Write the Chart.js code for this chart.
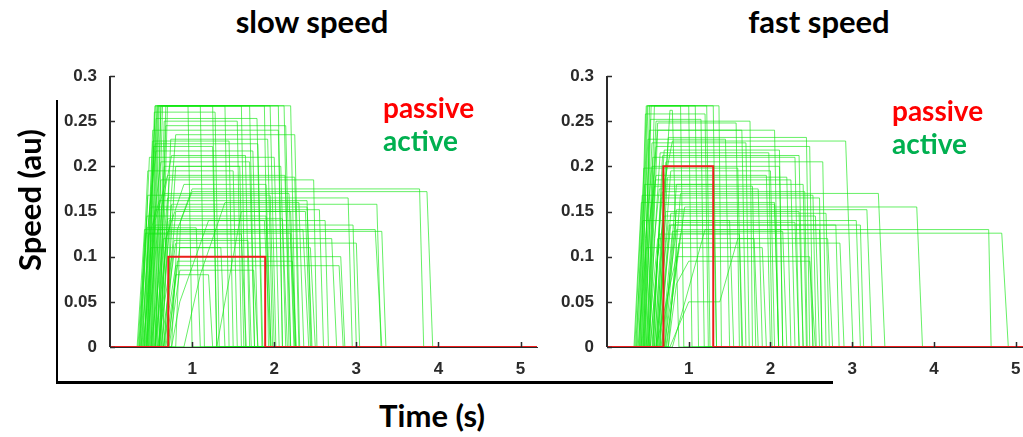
<!DOCTYPE html>
<html>
<head>
<meta charset="utf-8">
<script src="https://cdn.jsdelivr.net/npm/chart.js@4"></script>
<style>
  body { margin: 0; width: 1023px; height: 437px; overflow: hidden; background: #fff; position: relative; font-family: Lato, sans-serif; }
  .box { position: absolute; }
  .title { position: absolute; font-weight: 700; font-size: 31px; line-height: 31px; color: #000; transform: translateX(-50%); white-space: nowrap; }
  .leg { position: absolute; font-weight: 700; font-size: 28px; line-height: 28px; white-space: nowrap; }
  .axisLab { position: absolute; font-weight: 700; font-size: 31px; line-height: 31px; color: #000; white-space: nowrap; }
</style>
</head>
<body>
<div class="title" style="left:312px; top:6px;">slow speed</div>
<div class="title" style="left:819px; top:6px;">fast speed</div>

<div class="box" style="left:50px; top:60px; width:500px; height:330px;"><canvas id="slowChart"></canvas></div>
<div class="box" style="left:545px; top:60px; width:500px; height:330px;"><canvas id="fastChart"></canvas></div>

<div class="leg" style="left:383px; top:93px; color:#ff0000;">passive</div>
<div class="leg" style="left:383px; top:126px; color:#00b050;">active</div>
<div class="leg" style="left:892px; top:96px; color:#ff0000;">passive</div>
<div class="leg" style="left:892px; top:129px; color:#00b050;">active</div>

<!-- big L-shaped axes -->
<div class="box" style="left:56px; top:100px; width:2px; height:284px; background:#000;"></div>
<div class="box" style="left:56px; top:381px; width:777px; height:3px; background:#000;"></div>

<div class="axisLab" style="left:29px; top:200px; transform:translate(-50%,-50%) rotate(-90deg);">Speed (au)</div>
<div class="axisLab" style="left:432px; top:415px; transform:translate(-50%,-50%);">Time (s)</div>

<script>
const xMax = 5.2;
const xTicks = [1, 2, 3, 4, 5];

/* ── slow speed: active trials (onset, plateau reached, plateau, plateau end, back to 0) ── */
const slowOn   = [0.45,0.50,0.55,0.60,0.52,0.62,0.48,0.58,0.70,0.40,0.42,0.55,0.47,0.66,0.50,0.60,0.80,0.75,0.55,0.45,0.60,0.38,0.65,0.35,0.40,0.45,0.55,0.33,0.50,0.62,0.70,0.58,0.65,0.72,0.68,0.75,0.90,1.30,0.42,0.44,0.36,0.52,0.57,0.63,0.39,0.41,0.53,0.49,0.46,0.60,
                  0.56,0.51,0.47,0.64,0.43,0.38,0.54,0.61,0.37,0.44,0.59,0.34,0.67,0.71,0.36];
const slowUp   = [0.55,0.58,0.62,0.68,0.60,0.70,0.56,0.66,0.80,0.55,0.56,0.75,0.62,0.80,0.70,0.90,1.00,1.00,0.70,0.60,0.75,0.50,0.80,0.45,0.55,0.58,0.70,0.42,0.65,0.80,0.85,0.75,0.80,0.85,0.80,1.20,1.40,1.60,0.52,0.53,0.46,0.62,0.66,0.72,0.47,0.50,0.62,0.57,0.54,0.68,
                  0.64,0.59,0.55,0.74,0.52,0.48,0.66,0.72,0.46,0.55,0.70,0.43,0.78,0.82,0.45];
const slowTop  = [0.267,0.267,0.267,0.267,0.267,0.267,0.253,0.250,0.235,0.225,0.217,0.212,0.205,0.200,0.190,0.180,0.175,0.172,0.165,0.162,0.158,0.155,0.150,0.145,0.135,0.130,0.128,0.130,0.120,0.115,0.110,0.100,0.090,0.085,0.080,0.140,0.160,0.150,0.240,0.222,0.195,0.185,0.170,0.140,0.125,0.110,0.267,0.267,0.260,0.245,
                  0.267,0.267,0.267,0.230,0.228,0.210,0.200,0.188,0.168,0.152,0.142,0.126,0.118,0.095,0.132];
const slowDown = [2.20,1.95,1.70,1.40,1.10,0.95,1.79,1.55,2.25,1.80,1.74,1.65,1.70,2.08,2.13,1.90,3.77,3.86,2.90,2.40,3.25,2.40,2.38,1.90,2.96,3.23,3.31,2.35,2.70,3.00,2.44,2.81,2.79,1.75,1.20,1.88,2.30,2.20,2.05,1.25,1.50,2.48,2.18,2.62,1.60,1.35,1.88,2.05,1.28,2.14,
                  1.60,1.25,2.12,1.92,1.45,2.00,1.58,2.25,1.95,2.55,2.10,2.20,1.68,2.22,1.05];
const slowOff  = [2.26,2.02,1.76,1.45,1.15,1.00,1.85,1.60,2.31,1.86,1.80,1.70,1.76,2.14,2.20,1.96,3.82,3.93,2.95,2.45,3.30,2.46,2.44,1.96,3.00,3.31,3.36,2.42,2.76,3.04,2.50,2.86,2.84,1.80,1.25,1.95,2.36,2.26,2.10,1.30,1.55,2.52,2.24,2.66,1.66,1.40,1.93,2.10,1.33,2.20,
                  1.65,1.30,2.18,1.98,1.50,2.06,1.63,2.30,2.00,2.60,2.16,2.25,1.72,2.27,1.10];
// shoulders on the rising edge: [trial, time, speed]
const slowKnees = [[8,0.74,0.16],[9,0.46,0.13],[10,0.47,0.14],[11,0.62,0.15],[12,0.52,0.13],[14,0.55,0.14],[15,0.68,0.12],[16,0.86,0.14],[17,0.82,0.13],[19,0.50,0.13],[35,0.85,0.05],[36,1.10,0.08]];
// passive trace: [time, speed]
const slowPassiveT = [0, 0.71, 0.71, 1.89, 1.89, xMax];
const slowPassiveV = [0, 0,    0.10, 0.10, 0,    0];

/* ── fast speed ── */
const fastOn   = [0.40,0.42,0.45,0.50,0.60,0.48,0.52,0.60,0.65,0.45,0.55,0.50,0.58,0.42,0.62,0.47,0.70,0.53,0.75,0.72,0.68,0.57,0.60,0.63,0.66,0.70,0.50,0.38,0.60,0.75,0.35,0.37,0.44,0.46,0.49,0.33,0.52,0.56,0.61,0.64,0.67,0.40,0.43,0.77,0.80,
                  0.41,0.46,0.39,0.51,0.44,0.56,0.36,0.62,0.48,0.34,0.58,0.65,0.71,0.53,0.73];
const fastUp   = [0.48,0.50,0.52,0.58,0.77,0.60,0.62,0.75,0.80,0.60,0.70,0.65,0.72,0.55,0.78,0.60,0.85,0.68,0.90,0.95,0.85,0.70,0.75,0.78,0.85,0.90,0.62,0.48,0.85,1.00,0.44,0.46,0.52,0.56,0.59,0.42,0.64,0.66,0.72,0.76,0.80,0.50,0.53,1.60,1.20,
                  0.49,0.54,0.47,0.62,0.55,0.68,0.45,0.74,0.58,0.43,0.70,0.78,0.84,0.64,0.88];
const fastTop  = [0.267,0.267,0.267,0.267,0.262,0.250,0.248,0.232,0.228,0.222,0.218,0.215,0.205,0.200,0.195,0.190,0.180,0.172,0.170,0.155,0.152,0.145,0.140,0.135,0.130,0.126,0.120,0.110,0.100,0.095,0.140,0.180,0.240,0.210,0.185,0.160,0.175,0.165,0.150,0.135,0.128,0.230,0.252,0.120,0.130,
                  0.267,0.267,0.258,0.240,0.226,0.212,0.198,0.188,0.178,0.168,0.158,0.148,0.138,0.125,0.115];
const fastDown = [1.37,1.22,1.08,0.90,0.80,1.75,1.58,2.44,2.92,2.48,2.11,1.98,2.64,2.11,2.00,1.95,2.40,2.42,3.32,3.79,3.18,2.55,3.05,3.10,4.67,4.83,2.70,1.90,2.48,2.48,1.50,1.30,1.65,2.30,2.25,2.05,1.85,2.60,2.35,2.80,2.15,1.45,1.15,1.80,2.60,
                  1.30,1.00,1.20,2.05,1.70,2.35,1.60,2.20,1.78,2.52,2.05,2.68,2.30,1.62,2.85];
const fastOff  = [1.40,1.26,1.12,0.94,0.88,1.78,1.62,2.48,3.01,2.52,2.15,2.02,2.68,2.15,2.05,2.00,2.44,2.45,3.40,3.86,3.24,2.60,3.10,3.14,4.70,4.91,2.76,1.95,2.52,2.55,1.55,1.34,1.70,2.35,2.30,2.10,1.90,2.63,2.40,2.84,2.20,1.50,1.19,1.85,2.63,
                  1.34,1.04,1.24,2.10,1.74,2.40,1.65,2.25,1.82,2.56,2.10,2.72,2.35,1.66,2.90];
const fastKnees = [[6,0.56,0.16],[8,0.70,0.18],[9,0.52,0.13],[13,0.47,0.12],[15,0.52,0.14],[21,0.62,0.10],[29,0.85,0.07],[36,0.58,0.12],[43,1.00,0.05],[43,1.38,0.05]];
const fastPassiveT = [0, 0.69, 0.69, 1.30, 1.30, xMax];
const fastPassiveV = [0, 0,    0.20, 0.20, 0,    0];

const green = 'rgba(20,230,20,0.65)';
const red   = '#ee1c1c';
const axis  = '#2a2a2a';

function activeSets(on, up, top, down, off, knees) {
    return on.map((t0, i) => {
        const pts = [{ x: 0, y: 0 }, { x: t0, y: 0 }];
        knees.filter(k => k[0] === i).forEach(k => pts.push({ x: k[1], y: k[2] }));
        pts.push({ x: up[i], y: top[i] }, { x: down[i], y: top[i] }, { x: off[i], y: 0 }, { x: xMax, y: 0 });
        return { data: pts, borderColor: green, borderWidth: 1, pointRadius: 0, tension: 0 };
    });
}

function passiveSet(ts, vs) {
    return {
        data: ts.map((t, i) => ({ x: t, y: vs[i] })),
        borderColor: red, borderWidth: 2, pointRadius: 0, tension: 0,
    };
}

// inward (Matlab-style) tick marks
const innerTicks = {
    id: 'innerTicks',
    afterDatasetsDraw(chart) {
        const { ctx, chartArea, scales: { x, y } } = chart;
        ctx.save();
        ctx.strokeStyle = axis;
        ctx.lineWidth = 1.5;
        ctx.beginPath();
        y.ticks.forEach(t => {
            const py = Math.round(y.getPixelForValue(t.value)) + 0.5;
            ctx.moveTo(chartArea.left, py);
            ctx.lineTo(chartArea.left + 5, py);
        });
        x.ticks.forEach(t => {
            const px = Math.round(x.getPixelForValue(t.value)) + 0.5;
            ctx.moveTo(px, chartArea.bottom);
            ctx.lineTo(px, chartArea.bottom - 5);
        });
        ctx.stroke();
        // y axis drawn over the traces
        ctx.lineWidth = 2;
        ctx.beginPath();
        ctx.moveTo(chartArea.left, chartArea.top);
        ctx.lineTo(chartArea.left, chartArea.bottom);
        ctx.stroke();
        ctx.restore();
    },
};

function makeChart(id, sets, yWidth) {
    const tickFont = { family: '"Liberation Sans", Arial, sans-serif', size: 17, weight: 'bold' };
    return new Chart(document.getElementById(id), {
        type: 'line',
        data: { datasets: sets },
        options: {
            responsive: true,
            maintainAspectRatio: false,
            animation: false,
            parsing: false,
            layout: { padding: { top: 16, right: 13, left: 0, bottom: 0 } },
            plugins: { legend: { display: false }, tooltip: { enabled: false } },
            scales: {
                x: {
                    type: 'linear', min: 0, max: xMax,
                    afterBuildTicks: s => { s.ticks = xTicks.map(v => ({ value: v })); },
                    afterFit: s => { s.height = 43; },
                    grid: { display: false },
                    border: { display: true, color: axis, width: 1 },
                    ticks: { color: axis, font: tickFont, padding: 4, maxRotation: 0 },
                },
                y: {
                    type: 'linear', min: 0, max: 0.3,
                    afterFit: s => { s.width = yWidth; },
                    grid: { display: false },
                    border: { display: false },
                    ticks: {
                        stepSize: 0.05, color: axis, font: tickFont, padding: 5,
                        callback: v => String(Number(v.toFixed(2))),
                    },
                },
            },
        },
        plugins: [innerTicks],
    });
}

// passive first so that it is drawn on top of the active trials
makeChart('slowChart', [
    passiveSet(slowPassiveT, slowPassiveV),
    ...activeSets(slowOn, slowUp, slowTop, slowDown, slowOff, slowKnees),
], 60);

makeChart('fastChart', [
    passiveSet(fastPassiveT, fastPassiveV),
    ...activeSets(fastOn, fastUp, fastTop, fastDown, fastOff, fastKnees),
], 62);
</script>
</body>
</html>
